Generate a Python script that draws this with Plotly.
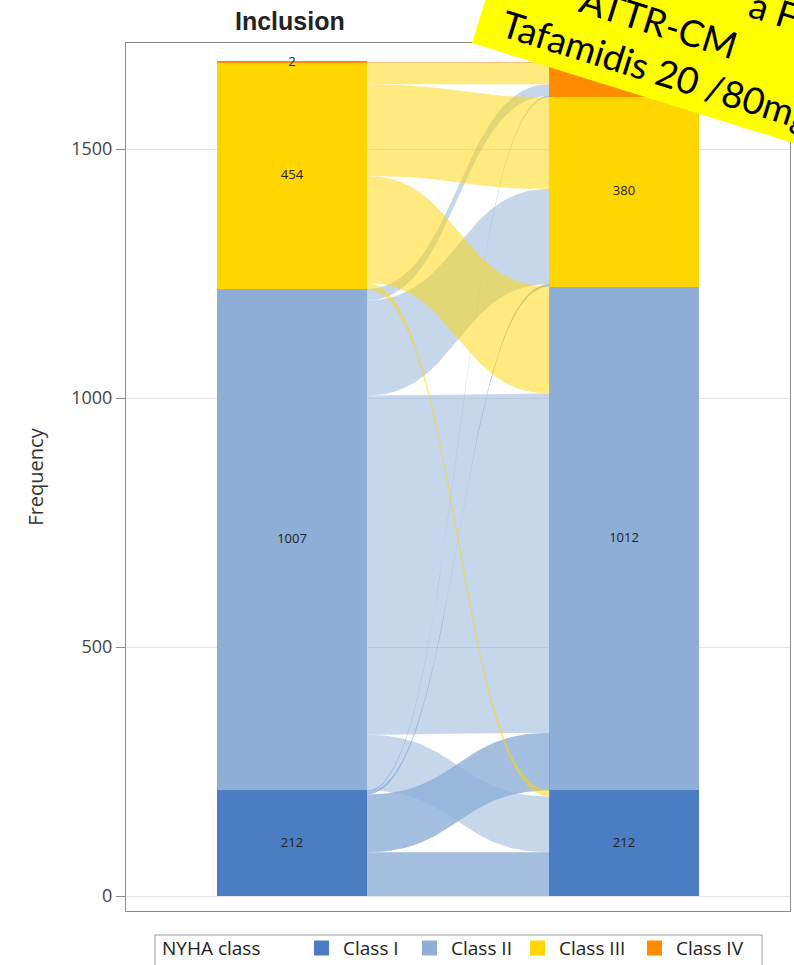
import math
import plotly.graph_objects as go

# NYHA class counts at the two time points
classes = ["Class I", "Class II", "Class III", "Class IV"]
class_colors = ["#4A7DC1", "#8EADD7", "#FFD600", "#FF8C00"]
inclusion = [212, 1007, 454, 2]
followup = [212, 1012, 380, 71]

# Transitions: row = class at inclusion, column = class at follow-up
transitions = [
    [88, 116, 5, 3],
    [112, 681, 191, 23],
    [12, 215, 184, 43],
    [0, 0, 0, 2],
]

y_ticks = [0, 500, 1000, 1500]
column_x = [0, 1]
bar_width = 0.45

W, H = 794, 965
M_L, M_R, M_T, M_B = 126, 4, 43, 54
PLOT_W = W - M_L - M_R
PLOT_H = H - M_T - M_B


def to_paper(px, py):
    return (px - M_L) / PLOT_W, (H - M_B - py) / PLOT_H


def hex_rgba(h, a):
    h = h.lstrip("#")
    r, g, b = int(h[0:2], 16), int(h[2:4], 16), int(h[4:6], 16)
    return f"rgba({r},{g},{b},{a})"


def bezier(x0, y0, x1, y1, n=60):
    xm = (x0 + x1) / 2
    xs, ys = [], []
    for k in range(n + 1):
        t = k / n
        a, b, c, d = (1 - t) ** 3, 3 * (1 - t) ** 2 * t, 3 * (1 - t) * t ** 2, t ** 3
        xs.append(a * x0 + b * xm + c * xm + d * x1)
        ys.append(a * y0 + b * y0 + c * y1 + d * y1)
    return xs, ys


fig = go.Figure()

# Flow bands between the two stacked columns
x_left = column_x[0] + bar_width / 2
x_right = column_x[1] - bar_width / 2
n = len(classes)
right_fill = [sum(followup[:j]) for j in range(n)]
for i in range(n):
    left_pos = sum(inclusion[:i])
    for j in range(n):
        v = transitions[i][j]
        if v <= 0:
            continue
        r0 = right_fill[j]
        tx, ty = bezier(x_left, left_pos + v, x_right, r0 + v)
        bx, by = bezier(x_right, r0, x_left, left_pos)
        fig.add_trace(go.Scatter(
            x=tx + bx, y=ty + by, mode="lines", fill="toself",
            fillcolor=hex_rgba(class_colors[i], 0.5),
            line=dict(width=0), hoverinfo="skip", showlegend=False,
        ))
        left_pos += v
        right_fill[j] += v

# Stacked columns
for k, name in enumerate(classes):
    fig.add_trace(go.Bar(
        x=column_x, y=[inclusion[k], followup[k]], name=name,
        marker=dict(color=class_colors[k], line=dict(width=0)),
        width=bar_width, hoverinfo="skip", showlegend=False,
    ))

# Segment counts
lx, ly, lt = [], [], []
for col, counts in zip(column_x, [inclusion, followup]):
    base = 0
    for c in counts:
        lx.append(col)
        ly.append(base + c / 2)
        lt.append(str(c))
        base += c
fig.add_trace(go.Scatter(
    x=lx, y=ly, text=lt, mode="text", showlegend=False, hoverinfo="skip",
    textfont=dict(family="Open Sans", size=13, color="#222222"),
))

shapes = []
annotations = []

# Legend box along the bottom edge
lg_top, lg_bot, lg_mid = 935, 985, 948
x0p, y0p = to_paper(155, lg_top)
x1p, y1p = to_paper(762, lg_bot)
shapes.append(dict(type="rect", xref="paper", yref="paper",
                   x0=x0p, x1=x1p, y0=y1p, y1=y0p,
                   line=dict(color="#9a9a9a", width=1), fillcolor="white"))
tx_, ty_ = to_paper(160, lg_mid)
annotations.append(dict(text="NYHA class", x=tx_, y=ty_, xref="paper", yref="paper",
                        xanchor="left", yanchor="middle", showarrow=False,
                        font=dict(family="Open Sans", size=19, color="#222222")))
swatch_x = [314, 422, 530, 647]
for name, col, sx in zip(classes, class_colors, swatch_x):
    a0, b0 = to_paper(sx, lg_mid - 7.5)
    a1, b1 = to_paper(sx + 15, lg_mid + 7.5)
    shapes.append(dict(type="rect", xref="paper", yref="paper",
                       x0=a0, x1=a1, y0=b1, y1=b0,
                       line=dict(width=0), fillcolor=col))
    px_, py_ = to_paper(sx + 27, lg_mid)
    annotations.append(dict(text=name, x=px_, y=py_, xref="paper", yref="paper",
                            xanchor="left", yanchor="middle", showarrow=False,
                            font=dict(family="Open Sans", size=19, color="#222222")))

# Yellow banner across the top right corner
ang = 17.3
dx, dy = math.cos(math.radians(ang)), math.sin(math.radians(ang))
nx, ny = dy, -dx
p0 = (472, 43)
p1 = (p0[0] + 700 * dx, p0[1] + 700 * dy)
p2 = (p1[0] + 320 * nx, p1[1] + 320 * ny)
p3 = (p0[0] + 320 * nx, p0[1] + 320 * ny)
pts = [to_paper(*p) for p in (p0, p1, p2, p3)]
path = "M " + " L ".join(f"{x:.5f},{y:.5f}" for x, y in pts) + " Z"
shapes.append(dict(type="path", xref="paper", yref="paper", path=path,
                   fillcolor="#FFFF00", line=dict(width=0), layer="above"))

banner_lines = [
    ("a F", (774, 9)),
    ("ATTR-CM", (659, 21)),
    ("Tafamidis 20 /80mg", (657, 69)),
]
for txt, (px, py) in banner_lines:
    ax_, ay_ = to_paper(px, py)
    annotations.append(dict(
        text=txt, x=ax_, y=ay_, xref="paper", yref="paper",
        xanchor="center", yanchor="middle", showarrow=False,
        textangle=ang, font=dict(family="Lato", size=37, color="#000000"),
    ))

ix, iy = to_paper(290, 21)
annotations.append(dict(
    text="<b>Inclusion</b>", x=ix, y=iy, xref="paper", yref="paper",
    xanchor="center", yanchor="middle", showarrow=False,
    font=dict(family="Liberation Sans", size=25, color="#222222"),
))

fig.update_layout(
    width=W, height=H,
    margin=dict(l=M_L, r=M_R, t=M_T, b=M_B, pad=0),
    paper_bgcolor="white", plot_bgcolor="white",
    barmode="stack", bargap=0,
    shapes=shapes,
    annotations=annotations,
    showlegend=False,
    xaxis=dict(range=[-0.5, 1.5], showticklabels=False, ticks="",
               showgrid=False, zeroline=False, showline=True,
               linecolor="#8c8c8c", linewidth=1, mirror=True, fixedrange=True),
    yaxis=dict(range=[-30, 1713], tickvals=y_ticks,
               ticks="outside", ticklen=9, tickcolor="#8c8c8c",
               showgrid=True, gridcolor="#e4e4e4", gridwidth=1,
               zeroline=False, showline=True, linecolor="#8c8c8c",
               linewidth=1, mirror=True, automargin=False,
               tickfont=dict(family="Open Sans", size=18, color="#444444"),
               title=dict(text="Frequency", standoff=22,
                          font=dict(family="Open Sans", size=20, color="#333333"))),
)

fig.write_html("out.html")
